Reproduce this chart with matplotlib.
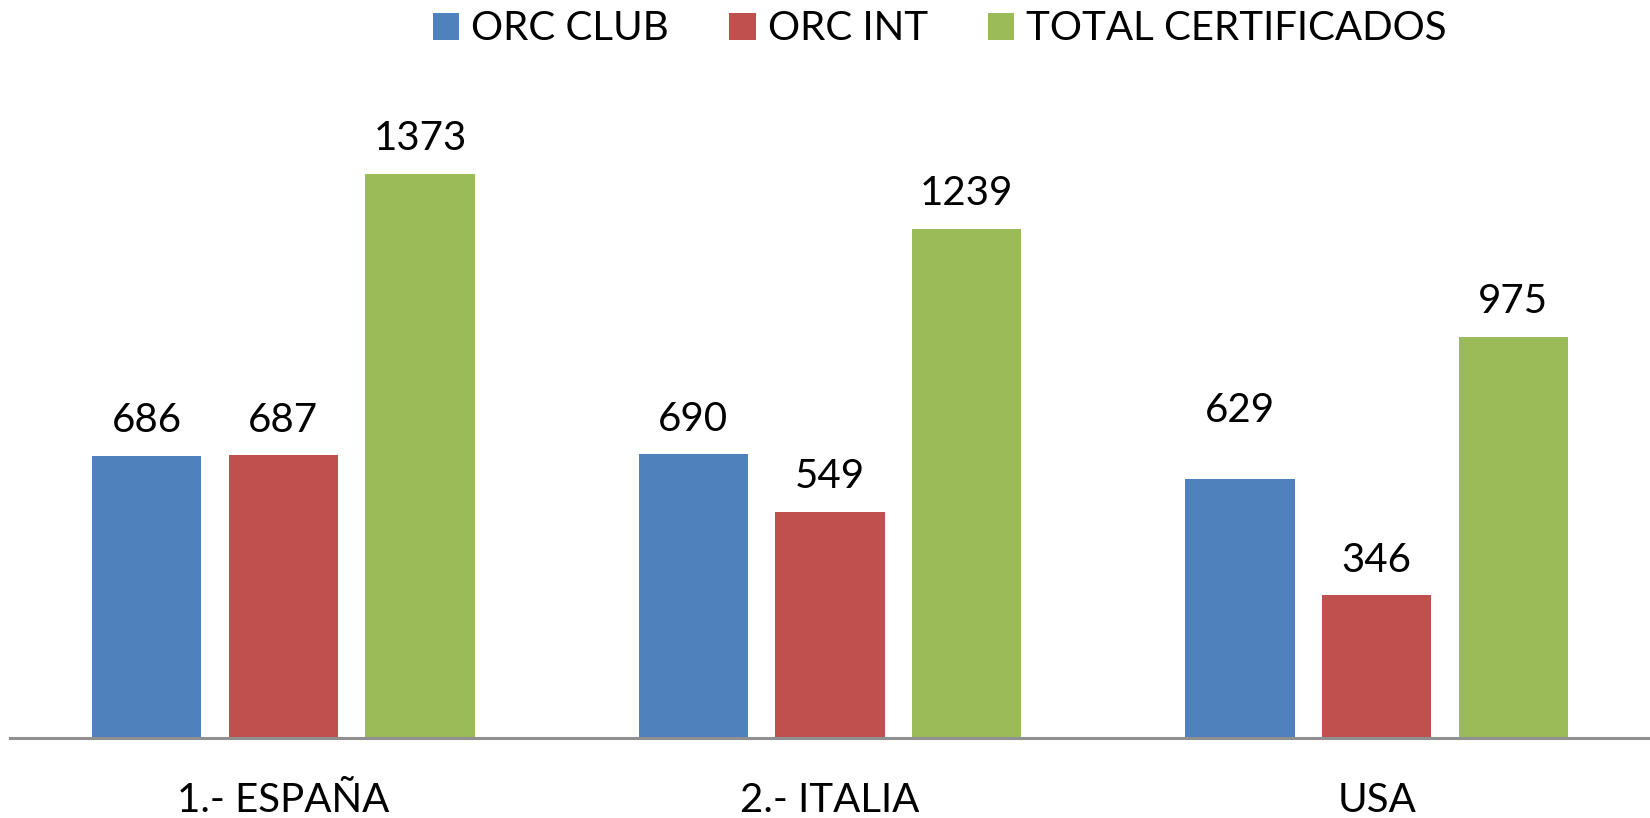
import matplotlib.pyplot as plt
import numpy as np

# Data
countries = ['1.- ESPAÑA', '2.- ITALIA', 'USA']
series_names = ['ORC CLUB', 'ORC INT', 'TOTAL CERTIFICADOS']
orc_club = [686, 690, 629]
orc_int = [687, 549, 346]
total = [1373, 1239, 975]

colors = ['#4F81BD', '#C0504D', '#9BBB59']

plt.rcParams['font.family'] = ['Lato', 'DejaVu Sans']

fig = plt.figure(figsize=(16.5, 8.18), dpi=100)
ax = fig.add_axes([10 / 1650, 80.5 / 818, 1640 / 1650, 657 / 818])

x = np.arange(len(countries))
width = 0.2
offsets = [-0.25, 0.0, 0.25]
# extra label lift (points) per series/country, Excel placed USA club label higher
extra = [[0, 0, 24], [0, 0, 0], [0, 0, 0]]

for i, (name, vals) in enumerate(zip(series_names, [orc_club, orc_int, total])):
    bars = ax.bar(x + offsets[i], vals, width, color=colors[i], label=name)
    for j, (b, v) in enumerate(zip(bars, vals)):
        ax.annotate(str(v), (b.get_x() + b.get_width() / 2, v),
                    xytext=(0, 12 + extra[i][j]), textcoords='offset points',
                    ha='center', va='bottom', fontsize=29)

ax.set_xlim(-0.5, 2.5)
ax.set_ylim(0, 1600)
ax.set_xticks(x)
ax.set_xticklabels(countries, fontsize=29)
ax.tick_params(axis='x', length=0, pad=32)
ax.set_yticks([])
for s in ['top', 'right', 'left']:
    ax.spines[s].set_visible(False)
ax.spines['bottom'].set_color('#909090')
ax.spines['bottom'].set_linewidth(2.2)

fig.legend(loc='center', bbox_to_anchor=(940 / 1650, 1 - 29 / 818), ncol=3,
           frameon=False, fontsize=29, handlelength=0.65, handleheight=0.65,
           handletextpad=0.3, columnspacing=1.5, borderpad=0)

fig.savefig('out.png', dpi=100)
